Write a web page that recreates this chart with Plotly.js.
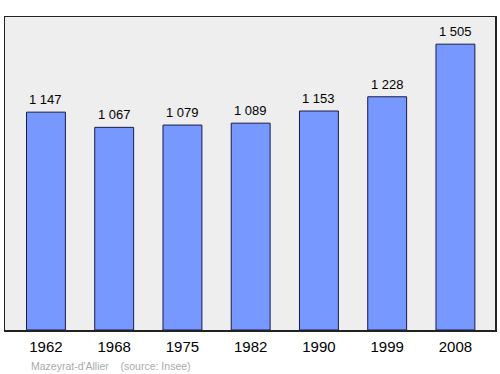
<!DOCTYPE html>
<html><head><meta charset="utf-8">
<script src="https://cdn.plot.ly/plotly-3.0.1.min.js"></script>
<style>body{margin:0;background:#fff}#c{width:500px;height:374px}</style>
</head><body><div id="c"></div>
<script>
const years = ["1962","1968","1975","1982","1990","1999","2008"];
const population = [1147,1067,1079,1089,1153,1228,1505];
const labels = ["1 147","1 067","1 079","1 089","1 153","1 228","1 505"];

const trace = {
  type:'bar', x:years, y:population, width:0.57,
  marker:{color:'#7799ff', line:{color:'#1a1a4a', width:1}},
  hoverinfo:'none'
};
const annotations = years.map((y,i)=>({
  x:i, y:population[i], text:labels[i], showarrow:false,
  yanchor:'bottom', yshift:3, font:{family:'Liberation Sans, Arial, sans-serif', size:13, color:'#000'}
}));
annotations.push({
  xref:'paper', yref:'paper', x:0.049, y:-0.088, xanchor:'left', yanchor:'top',
  text:"Mazeyrat-d'Allier&nbsp;&nbsp;&nbsp;&nbsp;(source: Insee)", showarrow:false,
  font:{family:'Liberation Sans, Arial, sans-serif', size:10.5, color:'#aaaaaa'}
});
Plotly.newPlot('c',[trace],{
  width:500, height:374,
  margin:{l:5,r:5,t:17,b:44},
  paper_bgcolor:'#fff', plot_bgcolor:'#eeeeee',
  showlegend:false,
  xaxis:{type:'category', range:[-0.6,6.58], showline:true, mirror:true, linecolor:'#222', linewidth:1.5,
    ticks:'', ticklabelstandoff:2, tickfont:{family:'Liberation Sans, Arial, sans-serif', size:15, color:'#000'}, fixedrange:true},
  yaxis:{range:[0,1648], showline:true, mirror:true, linecolor:'#222', linewidth:1.5, showgrid:false,
    zeroline:false, showticklabels:false, ticks:''},
  annotations:annotations
},{staticPlot:true});
</script></body></html>
